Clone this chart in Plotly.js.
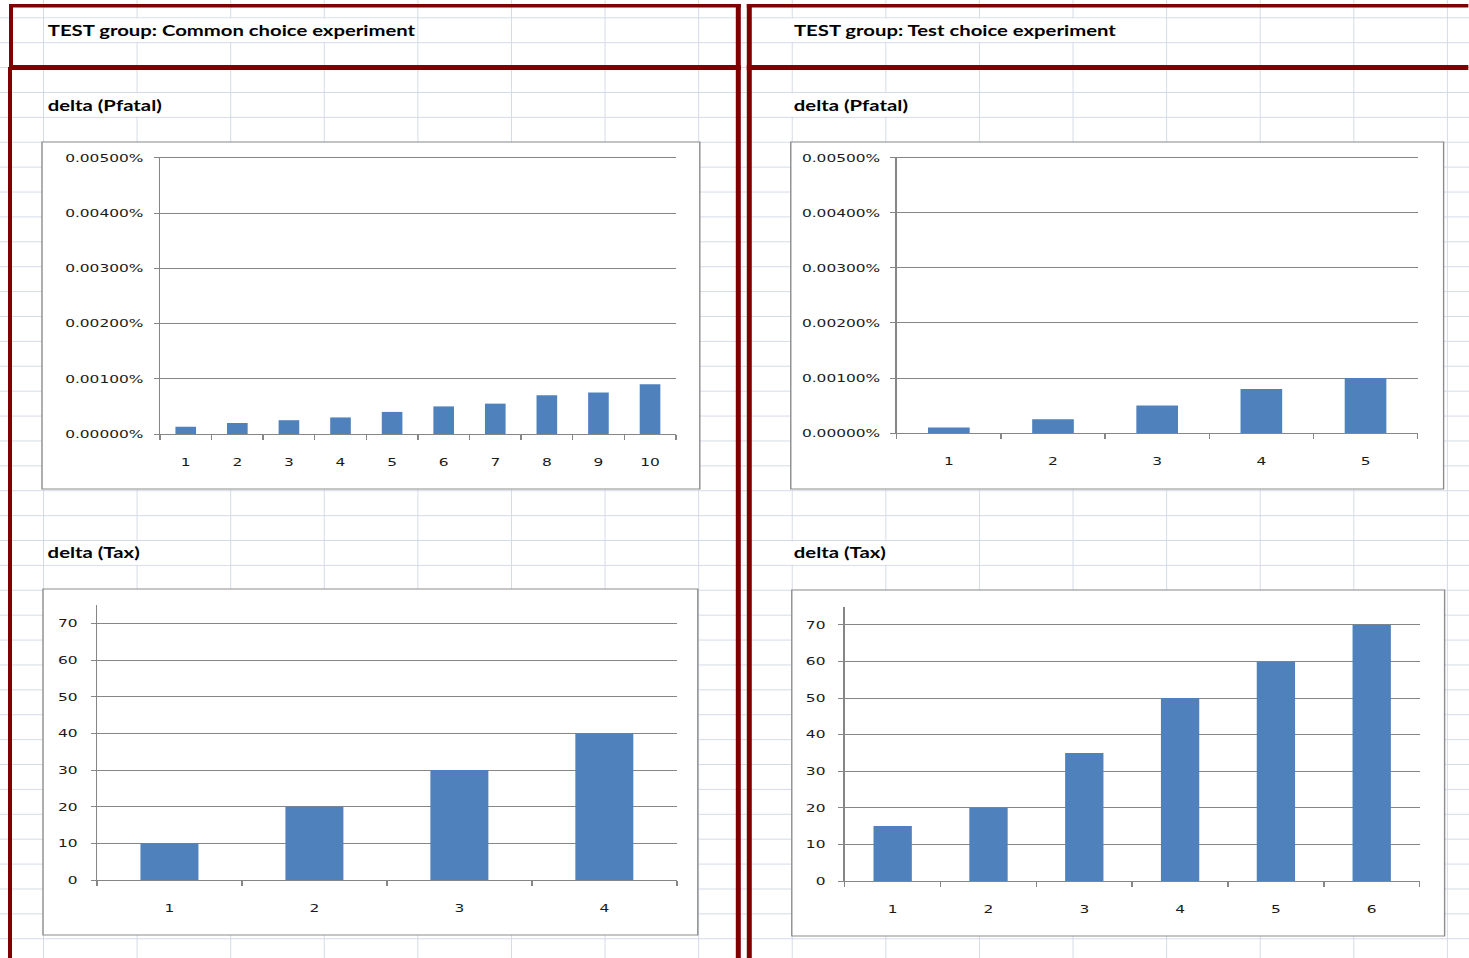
<!DOCTYPE html>
<html>
<head>
<meta charset="utf-8">
<script src="https://cdn.plot.ly/plotly-3.0.1.min.js"></script>
<style>
  html, body { margin: 0; padding: 0; width: 1469px; height: 958px; overflow: hidden; }
  body {
    background-color: #ffffff;
    background-image:
      linear-gradient(to right, #d4dbe8 1px, transparent 1px),
      linear-gradient(to bottom, #d4dbe8 1px, transparent 1px);
    background-size: 93.6px 100%, 100% 24.9px;
    background-position: 43px 0, 0 17.3px;
  }
  #chart { position: absolute; left: 0; top: 0; transform-origin: 0 0; }
</style>
</head>
<body>
<div id="chart"></div>
<script>
// ---------- data ----------
const commonPfatalCats = ['1','2','3','4','5','6','7','8','9','10'];
const commonPfatalVals = [0.00013, 0.0002, 0.00025, 0.0003, 0.0004, 0.0005, 0.00055, 0.0007, 0.00075, 0.0009]; // percent
const testPfatalCats = ['1','2','3','4','5'];
const testPfatalVals = [0.0001, 0.00025, 0.0005, 0.0008, 0.001]; // percent
const commonTaxCats = ['1','2','3','4'];
const commonTaxVals = [10, 20, 30, 40];
const testTaxCats = ['1','2','3','4','5','6'];
const testTaxVals = [15, 20, 35, 50, 60, 70];

const titleLeft = 'TEST group: Common choice experiment';
const titleRight = 'TEST group: Test choice experiment';
const subPfatal = 'delta (Pfatal)';
const subTax = 'delta (Tax)';

// ---------- geometry (picture pixels) ----------
const W = 1469, H = 958, S = 1.4;   // horizontal stretch of the reference
const fx = p => p / W;
const fy = p => 1 - p / H;

const barColor = '#4f81bd';
const axisGrey = '#868686';
const tickFont = { family: 'DejaVu Sans, Verdana, sans-serif', size: 11, color: '#1a1a1a' };

const traces = [
  { type: 'bar', x: commonPfatalCats, y: commonPfatalVals, xaxis: 'x', yaxis: 'y', marker: { color: barColor }, hoverinfo: 'skip' },
  { type: 'bar', x: testPfatalCats, y: testPfatalVals, xaxis: 'x2', yaxis: 'y2', marker: { color: barColor }, hoverinfo: 'skip' },
  { type: 'bar', x: commonTaxCats, y: commonTaxVals, xaxis: 'x3', yaxis: 'y3', marker: { color: barColor }, hoverinfo: 'skip' },
  { type: 'bar', x: testTaxCats, y: testTaxVals, xaxis: 'x4', yaxis: 'y4', marker: { color: barColor }, hoverinfo: 'skip' }
];

function xAx(x0, x1, anchor) {
  return {
    domain: [fx(x0), fx(x1)], anchor: anchor, type: 'category',
    showline: true, linecolor: axisGrey, linewidth: 1,
    ticks: 'outside', tickson: 'boundaries', ticklen: 5, tickcolor: axisGrey, tickwidth: 1,
    showgrid: false, zeroline: false, tickfont: tickFont, ticklabelstandoff: 18, fixedrange: true
  };
}
function yAx(yTop, yBot, anchor, range, dtick, fmt, suffix, standoff) {
  return {
    domain: [fy(yBot), fy(yTop)], anchor: anchor, range: range, dtick: dtick, tick0: 0,
    tickformat: fmt, ticksuffix: suffix,
    showline: true, linecolor: axisGrey, linewidth: 1,
    ticks: 'outside', ticklen: 3.6, tickcolor: axisGrey, tickwidth: 1,
    showgrid: true, gridcolor: axisGrey, gridwidth: 1, zeroline: false,
    tickfont: tickFont, ticklabelstandoff: standoff, fixedrange: true
  };
}

const shapes = [];
// chart frames
[[42,142,700,489],[791,142,1444,489],[43,589,698,935],[792,590,1445,936]].forEach(r => {
  shapes.push({ type: 'rect', xref: 'paper', yref: 'paper', layer: 'below',
    x0: fx(r[0]), x1: fx(r[2]), y0: fy(r[3]), y1: fy(r[1]),
    fillcolor: '#ffffff', line: { color: '#8c8c8c', width: 1 } });
});
// cells hidden by overflowing text
[[44,18.6,417,41.9],[791,18.6,1164,41.9],[44,93.3,230,116.6],[791,93.3,976,116.6],[44,541.5,230,564.8],[791,541.5,976,564.8]].forEach(r => {
  shapes.push({ type: 'rect', xref: 'paper', yref: 'paper', layer: 'below',
    x0: fx(r[0]), x1: fx(r[2]), y0: fy(r[3]), y1: fy(r[1]),
    fillcolor: '#ffffff', line: { width: 0 } });
});
// dark red borders
[[9,4,741,7.5],[9,4,13,67],[736,4,741,958],[9,65,741,70],[8,67,12,958],
 [747,4,752,958],[747,4,1469,7.5],[747,65,1469,70]].forEach(r => {
  shapes.push({ type: 'rect', xref: 'paper', yref: 'paper', layer: 'above',
    x0: fx(r[0]), x1: fx(r[2]), y0: fy(r[3]), y1: fy(r[1]),
    fillcolor: '#800000', line: { width: 0 } });
});

function label(text, x, y, size) {
  return { text: text, xref: 'paper', yref: 'paper', x: fx(x), y: fy(y),
    xanchor: 'left', yanchor: 'middle', showarrow: false,
    font: { family: 'Lato, Open Sans, sans-serif', size: size, color: '#000000', weight: 'bold' } };
}

const layout = {
  width: W / S, height: H,
  margin: { l: 0, r: 0, t: 0, b: 0 },
  paper_bgcolor: 'rgba(0,0,0,0)', plot_bgcolor: 'rgba(0,0,0,0)',
  showlegend: false, bargap: 0.6,
  xaxis: xAx(160, 676, 'y'),
  yaxis: yAx(156.5, 434, 'x', [0, 0.005027], 0.001, '.5f', '%', 5),
  xaxis2: xAx(897, 1418, 'y2'),
  yaxis2: yAx(156.5, 433, 'x2', [0, 0.005027], 0.001, '.5f', '%', 5),
  xaxis3: xAx(97, 677, 'y3'),
  yaxis3: yAx(605, 880, 'x3', [0, 75], 10, 'd', '', 7),
  xaxis4: xAx(845, 1420, 'y4'),
  yaxis4: yAx(606.5, 881, 'x4', [0, 75], 10, 'd', '', 7),
  shapes: shapes,
  annotations: [
    label(titleLeft, 45, 31, 14.5), label(titleRight, 791, 31, 14.5),
    label(subPfatal, 45, 105, 14.5), label(subPfatal, 791, 105, 14.5),
    label(subTax, 45, 552, 14.5), label(subTax, 791, 552, 14.5)
  ]
};

const el = document.getElementById('chart');
el.style.width = (W / S) + 'px';
el.style.height = H + 'px';
el.style.transform = 'scaleX(' + S + ')';
Plotly.newPlot(el, traces, layout, { displayModeBar: false, staticPlot: true });
</script>
</body>
</html>
